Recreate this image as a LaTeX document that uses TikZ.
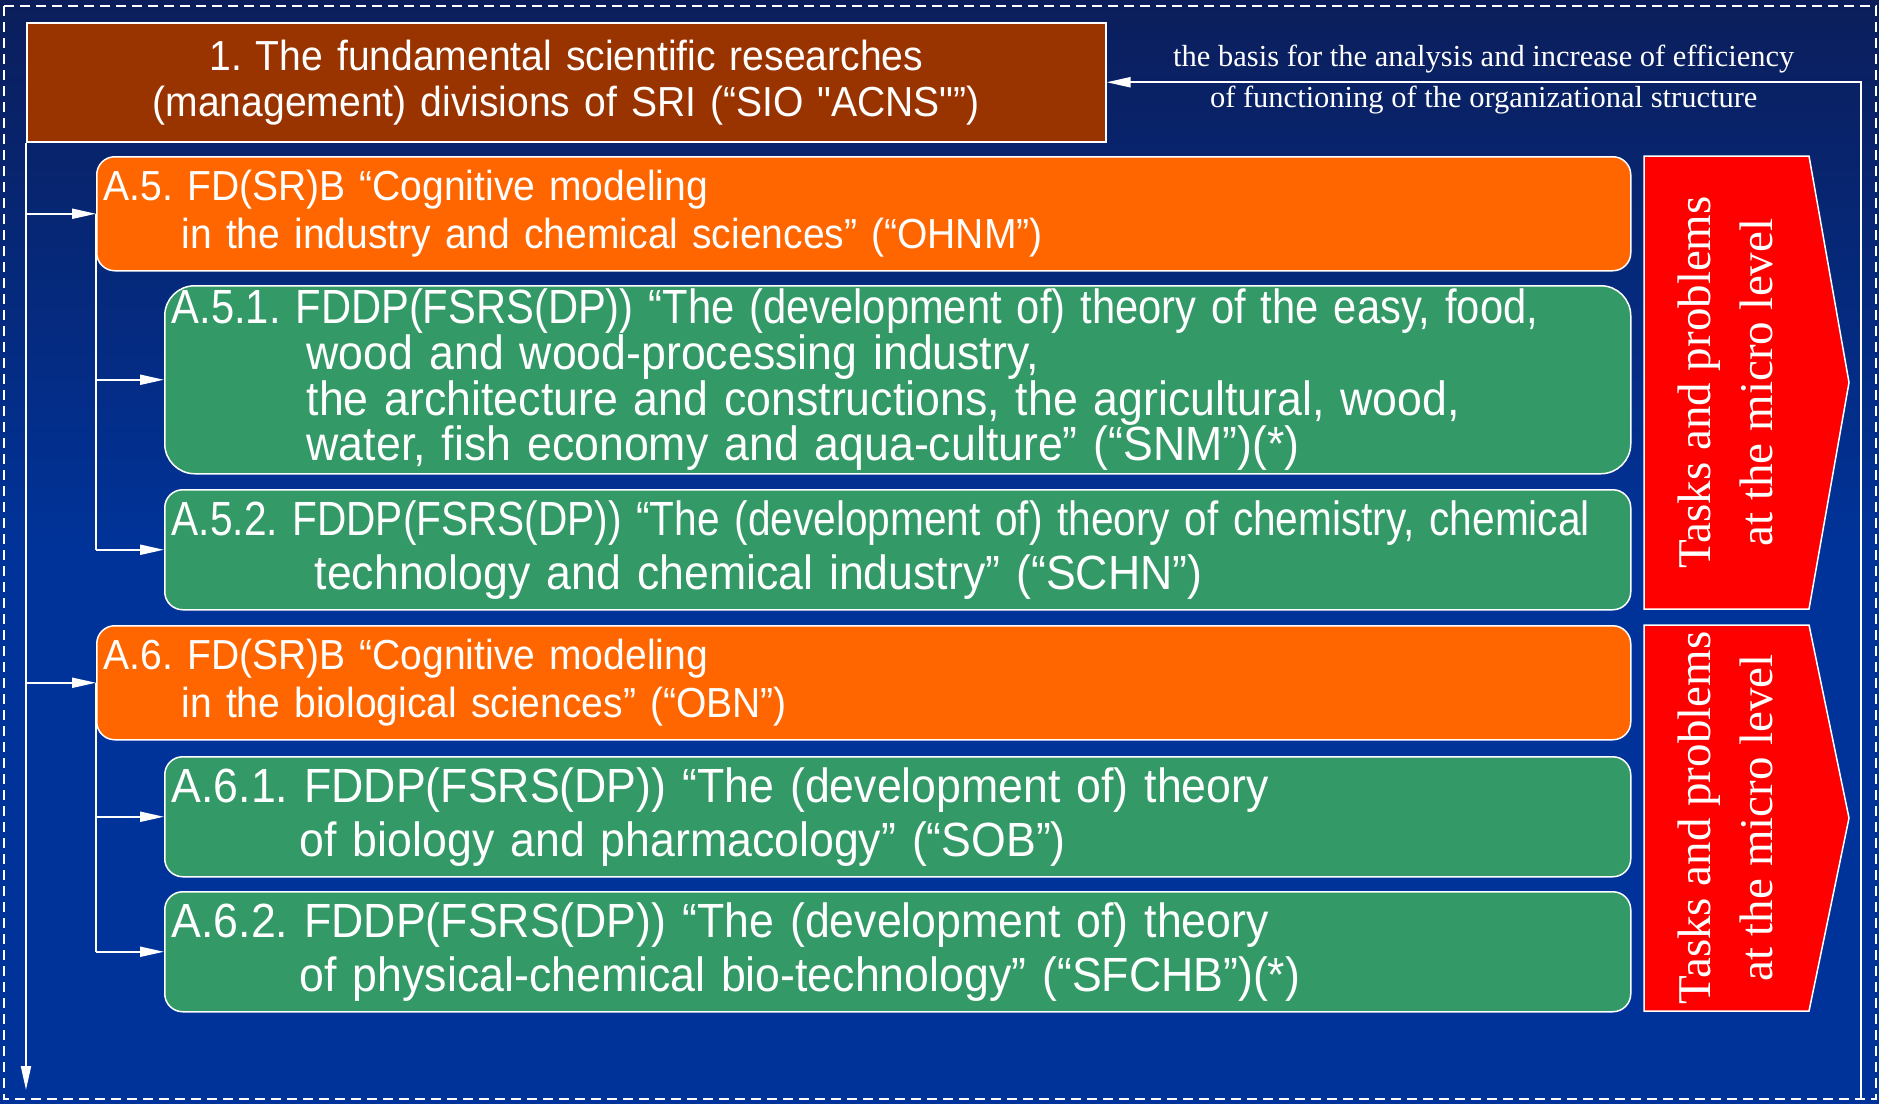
\documentclass[tikz,border=0pt]{standalone}
\usepackage{fontspec}
\newfontfamily\boxfont[FakeStretch=0.93]{Liberation Sans}
\newfontfamily\notefont{Liberation Serif}
\usetikzlibrary{arrows.meta}
\definecolor{bgtop}{HTML}{0B1E5B}
\definecolor{bgblue}{HTML}{003399}
\definecolor{brownbox}{HTML}{993300}
\definecolor{orangebox}{HTML}{FF6600}
\definecolor{greenbox}{HTML}{339966}
\definecolor{redbox}{HTML}{FF0000}
\frenchspacing
\newcommand\squeezeline[2]{\scalebox{#1}[1]{#2}}

\begin{document}
\begin{tikzpicture}[x=1pt, y=-1pt,
  box/.style={draw=white, line width=1.5pt, text=white, anchor=north west,
    align=left, inner xsep=7pt, inner ysep=0pt, rounded corners=18pt,
    font=\boxfont\fontsize{48}{54}\selectfont},
  dept/.style={box, fill=orangebox, minimum height=114pt, text width=1520pt,
    font=\boxfont\fontsize{42}{48}\selectfont},
  subdept/.style={box, fill=greenbox, minimum height=120pt, text width=1452pt},
  link/.style={white, line width=2pt},
  arr/.style={link, -{Triangle[length=24pt,width=10pt]}},
  micro/.style={draw=white, line width=1.5pt, fill=redbox},
  ]
  \useasboundingbox (0,0) rectangle (1879,1103);
  \shade[top color=bgtop, bottom color=bgblue, middle color=bgblue] (0,0) rectangle (1879,1103);
  \draw[white, line width=1.5pt, dash pattern=on 10pt off 6pt] (4,6) rectangle (1876,1099);

  \node[box, fill=brownbox, sharp corners, align=center, minimum height=119pt,
    text width=1065pt, font=\boxfont\fontsize{42}{46}\selectfont] (head) at (26,22)
    {1. The fundamental scientific researches\\(management) divisions of SRI (“SIO "ACNS"”)};

  \node[dept] (a5) at (96,156)
    {A.5. FD(SR)B “Cognitive modeling\\
     \hspace*{78pt}in the industry and chemical sciences” (“OHNM”)};
  \node[subdept, minimum height=188pt, rounded corners=30pt,
    font=\boxfont\fontsize{48}{44}\selectfont] (a51) at (164,285)
    {\squeezeline{0.934}{A.5.1. FDDP(FSRS(DP)) “The (development of) theory of the easy, food,}\\
     \hspace*{135pt}wood and wood-processing industry,\\
     \hspace*{135pt}the architecture and constructions, the agricultural, wood,\\
     \hspace*{135pt}water, fish economy and aqua-culture” (“SNM”)(*)};
  \node[subdept] (a52) at (164,489)
    {\squeezeline{0.91}{A.5.2. FDDP(FSRS(DP)) “The (development of) theory of chemistry, chemical}\\
     \hspace*{143pt}technology and chemical industry” (“SCHN”)};
  \node[dept] (a6) at (96,625)
    {A.6. FD(SR)B “Cognitive modeling\\
     \hspace*{78pt}in the biological sciences” (“OBN”)};
  \node[subdept] (a61) at (164,756)
    {A.6.1. FDDP(FSRS(DP)) “The (development of) theory\\
     \hspace*{128pt}of biology and pharmacology” (“SOB”)};
  \node[subdept] (a62) at (164,891)
    {A.6.2. FDDP(FSRS(DP)) “The (development of) theory\\
     \hspace*{128pt}of physical-chemical bio-technology” (“SFCHB”)(*)};

  \foreach \nm/\ya/\yb in {1/156/609, 2/625/1011}{
    \draw[micro] (1644,\ya) -- (1809,\ya) -- (1849,{(\ya+\yb)/2}) -- (1809,\yb)
      -- (1644,\yb) -- cycle;
    \node[text=white, rotate=90, align=center,
      font=\notefont\fontsize{47}{62}\selectfont] (micro\nm) at (1725,{(\ya+\yb)/2})
      {Tasks and problems\\at the micro level};
  }

  \coordinate (trunkend) at (26,1090);
  \coordinate (rbot) at (1861,1099);
  \draw[arr] (head.south west) -- (trunkend);
  \draw[arr] (head.south west |- a5.west) -- (a5.west);
  \draw[arr] (head.south west |- a6.west) -- (a6.west);
  \foreach \up/\one/\two in {a5/a51/a52, a6/a61/a62}{
    \draw[link] (\up.west) -- (\up.west |- \two.west);
    \draw[arr] (\up.west |- \one.west) -- (\one.west);
    \draw[arr] (\up.west |- \two.west) -- (\two.west);
  }
  \draw[arr] (rbot) |-
    node[pos=0.75, above=8pt, inner sep=0pt, text=white,
      font=\notefont\fontsize{30.5}{33}\selectfont] (basis1)
      {the basis for the analysis and increase of efficiency}
    node[pos=0.75, below=3pt, inner sep=0pt, text=white,
      font=\notefont\fontsize{30.5}{33}\selectfont] (basis2)
      {of functioning of the organizational structure}
    (head.east);
\end{tikzpicture}
\end{document}
